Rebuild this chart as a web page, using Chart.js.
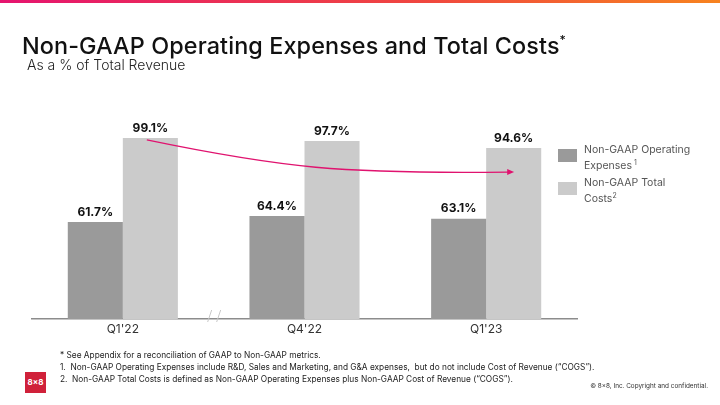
<!DOCTYPE html>
<html>
<head>
<meta charset="utf-8">
<script src="https://cdn.jsdelivr.net/npm/chart.js@4/dist/chart.umd.min.js"></script>
<style>
  html, body { margin: 0; padding: 0; background: #fff; }
  body { width: 720px; height: 405px; position: relative; overflow: hidden; font-family: Inter, "Noto Sans", sans-serif; color: #111; }
  #topbar { position: absolute; left: 0; top: 0; width: 720px; height: 3px; background: linear-gradient(90deg, #e5146f, #f0483e 60%, #f7831f); }
  #chart { position: absolute; left: 0; top: 0; }
  .title { position: absolute; left: 22px; top: 31px; font-size: 23.4px; font-weight: 500; letter-spacing: 0.1px; white-space: nowrap; }
  .title sup { font-size: 12px; vertical-align: 10px; }
  .subtitle { position: absolute; left: 27px; top: 56px; font-size: 14px; font-weight: 300; color: #222; }
  .legend { position: absolute; left: 558px; font-size: 10.5px; color: #555; line-height: 13px; }
  .legend .sw { position: absolute; left: 0; width: 19px; height: 13px; }
  .legend .txt { position: absolute; left: 26px; white-space: nowrap; }
  .legend sup { font-size: 7px; vertical-align: 4px; }
  .notes { position: absolute; left: 60px; top: 349px; font-size: 8.3px; color: #222; line-height: 12px; white-space: nowrap; }
  .logo { position: absolute; left: 25px; top: 372px; width: 21px; height: 21px; background: #d0213a; color: #fff; font-size: 8px; font-weight: 700; text-align: center; line-height: 21px; }
  .copy { position: absolute; right: 12px; top: 382px; font-size: 6.4px; color: #333; }
</style>
</head>
<body>
<div id="topbar"></div>
<canvas id="chart" width="720" height="405"></canvas>
<div class="title">Non-GAAP Operating Expenses and Total Costs<sup>*</sup></div>
<div class="subtitle">As a % of Total Revenue</div>

<div class="legend" style="top:143px">
  <div class="sw" style="top:6px;background:#9a9a9a"></div>
  <div class="txt">Non-GAAP Operating<br>Expenses<sup> 1</sup></div>
</div>
<div class="legend" style="top:176px">
  <div class="sw" style="top:6px;background:#cbcbcb"></div>
  <div class="txt">Non-GAAP Total<br>Costs<sup>2</sup></div>
</div>

<div class="notes">
  * See Appendix for a reconciliation of GAAP to Non-GAAP metrics.<br>
  1.&nbsp; Non-GAAP Operating Expenses include R&amp;D, Sales and Marketing, and G&amp;A expenses,&nbsp; but do not include Cost of Revenue (“COGS”).<br>
  2.&nbsp; Non-GAAP Total Costs is defined as Non-GAAP Operating Expenses plus Non-GAAP Cost of Revenue (“COGS”).
</div>
<div class="logo">8x8</div>
<div class="copy">© 8x8, Inc. Copyright and confidential.</div>

<script>
// chart data
const categories = ["Q1'22", "Q4'22", "Q1'23"];
const opexPct = [61.7, 64.4, 63.1];
const totalCostPct = [99.1, 97.7, 94.6];

// value labels above each bar
const valueLabels = {
  id: 'valueLabels',
  afterDatasetsDraw(chart) {
    const ctx = chart.ctx;
    ctx.save();
    ctx.font = '700 12px Inter, sans-serif';
    ctx.fillStyle = '#111';
    ctx.textAlign = 'center';
    ctx.textBaseline = 'bottom';
    chart.data.datasets.forEach((ds, i) => {
      chart.getDatasetMeta(i).data.forEach((bar, j) => {
        ctx.fillText(ds.data[j].toFixed(1) + '%', bar.x, bar.y - 4);
      });
    });
    ctx.restore();
  }
};

// trend arrow + axis break marks
const extras = {
  id: 'extras',
  afterDatasetsDraw(chart) {
    const ctx = chart.ctx;
    const x = chart.scales.x, y = chart.scales.y;
    const x0 = x.getPixelForValue(0) + 24;
    const y0 = y.getPixelForValue(totalCostPct[0]) + 2;
    const x1 = x.getPixelForValue(2) + 27;
    const y1 = y.getPixelForValue(totalCostPct[2]) + 24;
    ctx.save();
    ctx.strokeStyle = '#e0136f';
    ctx.fillStyle = '#e0136f';
    ctx.lineWidth = 1.3;
    ctx.beginPath();
    ctx.moveTo(x0, y0);
    ctx.bezierCurveTo(x0 + 135, y0 + 28, x0 + 195, y1 + 2, x1 - 5, y1);
    ctx.stroke();
    ctx.beginPath();
    ctx.moveTo(x1 + 1, y1);
    ctx.lineTo(x1 - 6, y1 - 3);
    ctx.lineTo(x1 - 6, y1 + 3);
    ctx.closePath();
    ctx.fill();

    // break marks on the baseline
    const bx = (x.getPixelForValue(0) + x.getPixelForValue(1)) / 2;
    const by = chart.chartArea.bottom;
    ctx.strokeStyle = '#c8c8c8';
    ctx.lineWidth = 1;
    [-4, 5].forEach(dx => {
      ctx.beginPath();
      ctx.moveTo(bx + dx - 2, by + 3);
      ctx.lineTo(bx + dx + 2, by - 9);
      ctx.stroke();
    });
    ctx.restore();
  }
};

new Chart(document.getElementById('chart'), {
  type: 'bar',
  data: {
    labels: categories,
    datasets: [
      { label: 'Non-GAAP Operating Expenses', data: opexPct, backgroundColor: '#9a9a9a' },
      { label: 'Non-GAAP Total Costs', data: totalCostPct, backgroundColor: '#cbcbcb' }
    ]
  },
  options: {
    responsive: false,
    animation: false,
    categoryPercentage: 0.606,
    barPercentage: 1,
    layout: { padding: { left: 32, right: 143, top: 100, bottom: 56 } },
    plugins: { legend: { display: false }, tooltip: { enabled: false } },
    scales: {
      x: {
        grid: { display: false, drawTicks: false },
        border: { display: true, color: '#8c8c8c', width: 1.5 },
        ticks: { color: '#333', padding: 3, font: { family: 'Inter', size: 12 } },
        afterFit: (s) => { s.height = 30; }
      },
      y: { display: false, min: 18.5, max: 116 }
    }
  },
  plugins: [valueLabels, extras]
});
</script>
</body>
</html>
